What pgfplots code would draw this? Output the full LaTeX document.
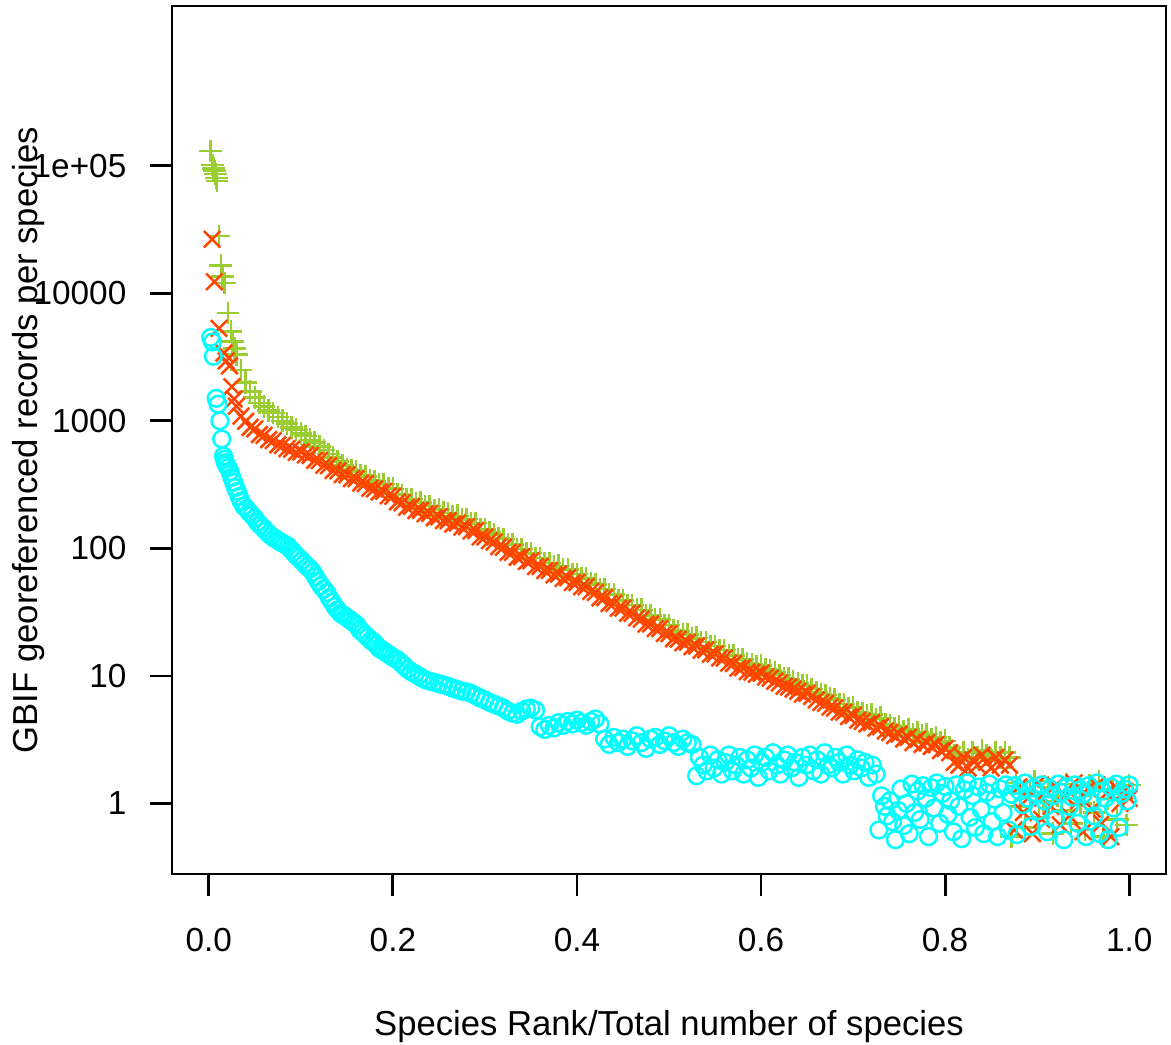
\documentclass[border=0pt]{standalone}
\usepackage{pgfplots}
\pgfplotsset{compat=1.18}
\usepackage{pgfplotstable}
\usepackage{fontspec}
\setmainfont{Liberation Sans}
\definecolor{ygreen}{RGB}{154,205,50}
\definecolor{ored}{RGB}{255,69,0}
\definecolor{rcyan}{RGB}{0,255,255}

\pgfplotstableread{
x y
0.002 130000
0.004 101000
0.005 95000
0.006 91000
0.007 86000
0.008 80000
0.009 76000
0.011 28000
0.013 16500
0.015 13500
0.017 12000
0.021 7000
0.024 5000
0.026 4200
0.028 3700
0.030 3300
0.035 2500
0.040 2000
0.045 1700
0.050 1520
0.055 1380
0.060 1290
0.065 1200
0.070 1150
0.075 1070
0.080 1000
0.085 955
0.090 890
0.095 850
0.100 795
0.105 760
0.110 710
0.115 675
0.120 630
0.125 590
0.130 550
0.135 515
0.140 480
0.145 447
0.150 417
0.155 408
0.160 400
0.165 373
0.170 367
0.175 339
0.180 335
0.185 318
0.190 320
0.195 297
0.200 293
0.205 267
0.210 261
0.215 242
0.220 244
0.225 227
0.230 228
0.235 215
0.240 215
0.245 200
0.250 202
0.255 190
0.260 189
0.265 178
0.270 180
0.275 169
0.280 170
0.285 157
0.290 158
0.295 142
0.300 141
0.305 133
0.310 128
0.315 119
0.320 118
0.325 107
0.330 107
0.335 99
0.340 99
0.345 91
0.350 92
0.355 84
0.360 84
0.365 77
0.370 77
0.375 72
0.380 73
0.385 68
0.390 68
0.395 63
0.400 63
0.405 58
0.410 58
0.415 53
0.420 52
0.425 48
0.430 48
0.435 43.5
0.440 43.5
0.445 39
0.450 39
0.455 36
0.460 36
0.465 33
0.470 33
0.475 29.7
0.480 29.7
0.485 27.6
0.490 27.6
0.495 25
0.500 25
0.505 22.8
0.510 22.3
0.515 21.2
0.520 21.2
0.525 19.6
0.530 19.9
0.535 18.4
0.540 18.5
0.545 17.2
0.550 17.2
0.555 15.9
0.560 15.9
0.565 14.6
0.570 14.4
0.575 13.4
0.580 13.4
0.585 12.5
0.590 12.3
0.595 11.9
0.600 12.1
0.605 11.3
0.610 11.1
0.615 10.6
0.620 10.2
0.625 9.6
0.630 9.5
0.635 9.1
0.640 8.8
0.645 8.4
0.650 8.5
0.655 7.9
0.660 7.5
0.665 7.2
0.670 7.1
0.675 6.7
0.680 6.5
0.685 6.0
0.690 6.0
0.695 5.6
0.700 5.7
0.705 5.2
0.710 5.1
0.715 4.9
0.720 5.0
0.725 4.6
0.730 4.7
0.735 4.2
0.740 4.1
0.745 3.9
0.750 4.0
0.755 3.7
0.760 3.8
0.765 3.5
0.770 3.6
0.775 3.4
0.780 3.5
0.785 3.2
0.790 3.3
0.795 3.0
0.800 3.1
0.805 2.75
0.810 2.4
0.815 2.3
0.820 2.5
0.825 2.2
0.830 2.5
0.835 2.3
0.840 2.6
0.845 2.4
0.850 2.2
0.855 2.5
0.860 2.3
0.865 2.5
0.870 2.3
0.872 0.55
0.877 1.45
0.882 0.95
0.887 0.65
0.892 1.20
0.897 1.50
0.902 0.78
0.907 1.05
0.912 1.35
0.917 0.58
0.922 1.15
0.927 0.88
0.932 1.42
0.937 0.70
0.942 1.25
0.947 1.00
0.952 0.62
0.957 1.38
0.962 0.85
0.967 1.48
0.972 0.55
0.977 1.10
0.982 1.30
0.987 0.75
0.992 1.20
0.997 0.68
1.000 1.40
}\greendata

\pgfplotstableread{
x y
0.0035 26500
0.0060 12300
0.0110 5300
0.0165 3400
0.0190 2950
0.0225 2700
0.0250 1850
0.0275 1480
0.030 1300
0.035 1090
0.040 990
0.045 890
0.050 865
0.055 780
0.060 770
0.065 712
0.070 700
0.075 650
0.080 640
0.085 605
0.090 598
0.095 565
0.100 570
0.105 540
0.110 535
0.115 490
0.120 488
0.125 448
0.130 445
0.135 408
0.140 405
0.145 378
0.150 378
0.155 352
0.160 352
0.165 325
0.170 322
0.175 296
0.180 293
0.185 277
0.190 280
0.195 258
0.200 256
0.205 232
0.210 228
0.215 210
0.220 213
0.225 198
0.230 199
0.235 187
0.240 188
0.245 174
0.250 177
0.255 165
0.260 165
0.265 155
0.270 158
0.275 147
0.280 148
0.285 137
0.290 138
0.295 123
0.300 123
0.305 115
0.310 112
0.315 103
0.320 102
0.325 93
0.330 93
0.335 85
0.340 86
0.345 79
0.350 80
0.355 72
0.360 72
0.365 67
0.370 67
0.375 62
0.380 63
0.385 58
0.390 59
0.395 54
0.400 54
0.405 50
0.410 50
0.415 46
0.420 45
0.425 41
0.430 41
0.435 37
0.440 37
0.445 34
0.450 34
0.455 31
0.460 31
0.465 28.5
0.470 28
0.475 25.5
0.480 25.5
0.485 23.5
0.490 23.5
0.495 21.5
0.500 21.5
0.505 19.6
0.510 19.4
0.515 18.2
0.520 18.4
0.525 17
0.530 17.2
0.535 15.9
0.540 16
0.545 14.8
0.550 14.9
0.555 13.8
0.560 13.8
0.565 12.6
0.570 12.5
0.575 11.5
0.580 11.6
0.585 10.8
0.590 10.7
0.595 10.3
0.600 10.5
0.605 9.8
0.610 9.6
0.615 9.1
0.620 8.8
0.625 8.3
0.630 8.2
0.635 7.9
0.640 7.6
0.645 7.2
0.650 7.3
0.655 6.9
0.660 6.5
0.665 6.2
0.670 6.1
0.675 5.7
0.680 5.6
0.685 5.2
0.690 5.2
0.695 4.8
0.700 4.9
0.705 4.5
0.710 4.4
0.715 4.2
0.720 4.3
0.725 3.9
0.730 4.0
0.735 3.7
0.740 3.6
0.745 3.4
0.750 3.5
0.755 3.2
0.760 3.3
0.765 3.0
0.770 3.2
0.775 2.9
0.780 3.0
0.785 2.8
0.790 2.9
0.795 2.6
0.800 2.7
0.805 2.5
0.810 2.1
0.815 2.0
0.820 2.3
0.825 1.9
0.830 2.2
0.835 2.0
0.840 2.4
0.845 2.1
0.850 1.9
0.855 2.3
0.860 2.0
0.865 2.2
0.870 2.0
0.875 0.62
0.880 1.35
0.885 0.85
0.890 1.10
0.895 0.58
0.900 1.42
0.905 0.75
0.910 1.25
0.915 0.95
0.920 1.38
0.925 0.68
0.930 1.15
0.935 0.80
0.940 1.45
0.945 1.05
0.950 0.60
0.955 1.30
0.960 0.90
0.965 1.40
0.970 0.70
0.975 1.20
0.980 0.55
0.985 1.35
0.990 1.00
0.995 1.25
1.000 1.10
}\reddata

\pgfplotstableread{
x y
0.002 4500
0.004 4150
0.005 3200
0.008 1500
0.010 1350
0.012 1000
0.014 720
0.016 530
0.017 500
0.018 470
0.019 450
0.021 430
0.023 400
0.025 360
0.027 330
0.029 300
0.031 280
0.033 255
0.035 235
0.038 215
0.041 205
0.044 192
0.047 182
0.050 172
0.053 160
0.056 152
0.059 145
0.062 137
0.065 130
0.068 125
0.071 120
0.074 117
0.077 113
0.080 110
0.083 107
0.086 104
0.089 98
0.092 93
0.095 88
0.098 84
0.101 80
0.104 76
0.107 72
0.110 69
0.113 65
0.116 60
0.119 55
0.122 51
0.125 48
0.128 45
0.131 41
0.134 38
0.137 35
0.140 33
0.143 31
0.146 30
0.149 29
0.152 28
0.155 27
0.158 26
0.161 25
0.164 23
0.167 22
0.170 21
0.173 20
0.176 19
0.179 18.5
0.182 17.5
0.185 16.5
0.188 16
0.191 15.5
0.194 15
0.197 14.5
0.200 14
0.204 13.5
0.208 12.8
0.212 12
0.216 11.3
0.220 10.8
0.224 10.4
0.228 10
0.232 9.6
0.236 9.3
0.240 9.1
0.245 8.9
0.250 8.7
0.255 8.5
0.260 8.3
0.265 8.0
0.270 7.8
0.275 7.6
0.280 7.5
0.285 7.3
0.290 7.0
0.295 6.7
0.300 6.5
0.305 6.2
0.310 6.0
0.315 5.8
0.320 5.6
0.325 5.3
0.330 5.1
0.335 5.0
0.340 5.3
0.345 5.5
0.350 5.6
0.355 5.4
0.360 4.0
0.365 3.8
0.370 4.1
0.375 3.9
0.380 4.3
0.385 4.1
0.390 4.4
0.395 4.2
0.400 4.5
0.405 4.3
0.410 4.1
0.415 4.4
0.420 4.6
0.425 4.2
0.430 3.2
0.435 2.9
0.440 3.3
0.445 3.0
0.450 3.2
0.455 2.8
0.460 3.1
0.465 3.4
0.470 3.0
0.475 2.7
0.480 3.2
0.485 3.3
0.490 2.9
0.495 3.1
0.500 3.4
0.505 3.0
0.510 2.8
0.515 3.2
0.520 3.0
0.525 2.9
0.530 1.65
0.533 2.3
0.537 2.0
0.541 1.8
0.545 2.4
0.549 1.9
0.553 2.2
0.557 1.7
0.561 2.1
0.565 2.4
0.569 1.8
0.573 2.0
0.577 2.3
0.581 1.7
0.585 2.2
0.589 1.9
0.593 2.4
0.597 1.6
0.601 2.1
0.605 2.3
0.609 1.8
0.613 2.5
0.617 2.0
0.621 1.7
0.625 2.2
0.629 2.4
0.633 1.9
0.637 2.1
0.641 1.6
0.645 2.3
0.649 2.0
0.653 2.4
0.657 1.8
0.661 2.2
0.665 1.7
0.669 2.5
0.673 2.0
0.677 1.9
0.681 2.3
0.685 2.1
0.689 1.7
0.693 2.4
0.697 2.0
0.701 1.8
0.705 2.2
0.709 1.9
0.713 2.1
0.717 1.6
0.721 2.0
0.725 1.7
0.728 0.62
0.731 1.15
0.734 0.95
0.737 0.80
0.740 1.05
0.743 0.72
0.746 0.52
0.749 0.88
0.752 1.30
0.755 0.67
0.758 1.00
0.761 0.58
0.764 1.42
0.767 0.85
0.770 1.25
0.773 0.75
0.776 1.38
0.779 1.10
0.782 0.55
0.785 1.33
0.788 0.92
0.791 1.45
0.794 0.70
0.797 1.20
0.800 1.36
0.803 0.82
0.806 1.05
0.809 0.60
0.812 1.40
0.815 0.95
0.818 0.53
0.821 1.28
0.824 1.45
0.827 0.78
0.830 1.15
0.833 0.65
0.836 1.35
0.839 0.90
0.842 0.58
0.845 1.22
0.848 1.42
0.851 0.72
0.854 1.08
0.857 0.55
0.860 1.30
0.863 0.85
0.866 1.40
0.869 0.62
0.872 1.18
0.875 1.38
0.878 0.57
0.881 1.25
0.884 0.98
0.887 1.45
0.890 1.10
0.893 0.66
0.896 1.32
0.899 1.20
0.902 0.88
0.905 1.40
0.908 1.05
0.911 0.60
0.914 1.30
0.917 1.15
0.920 0.75
0.923 1.42
0.926 1.22
0.929 0.52
0.932 1.35
0.935 0.95
0.938 1.12
0.941 1.40
0.944 0.70
0.947 1.28
0.950 1.18
0.953 0.55
0.956 1.38
0.959 1.02
0.962 0.80
0.965 1.45
0.968 0.58
0.971 1.25
0.974 1.10
0.977 0.52
0.980 1.35
0.983 0.92
0.986 1.42
0.989 0.65
0.992 1.20
0.995 1.30
0.998 1.05
1.000 1.40
}\cyandata

\begin{document}
\fontsize{10}{12}\selectfont
\begin{tikzpicture}
\useasboundingbox (-51.6pt,-51.3pt) rectangle (299.7pt,262.2pt);
\begin{axis}[
  scale only axis,
  width=298.2pt, height=260.4pt,
  xmin=-0.04, xmax=1.04,
  ymode=log, ymin=0.2801, ymax=1.786e6,
  axis line style={line width=0.85pt},
  every tick/.style={black, line width=0.85pt},
  tick align=outside,
  major tick length=6.6pt,
  xtick={0,0.2,0.4,0.6,0.8,1.0},
  xticklabels={0.0,0.2,0.4,0.6,0.8,1.0},
  ytick={1,10,100,1000,10000,100000},
  yticklabels={1,10,100,1000,10000,1e+05},
  yminorticks=false, xminorticks=false,
  log ticks with fixed point,
  xtick pos=bottom, ytick pos=left,
  /pgf/number format/assume math mode=true,
  ticklabel style={font=\fontsize{10}{12}\selectfont},
  xticklabel style={anchor=north, inner sep=0pt, yshift=-9.6pt},
  yticklabel style={anchor=east, inner sep=0pt, xshift=-6.9pt},
  xlabel={Species Rank/Total number of species},
  ylabel={GBIF georeferenced records per species},
  label style={font=\fontsize{10.4}{12.5}\selectfont},
  xlabel style={at={(axis description cs:0.5,-0.1855)}, anchor=base, inner sep=0pt},
  ylabel style={at={(axis description cs:-0.1358,0.5)}, anchor=base, inner sep=0pt},
  clip=false,
]
\addplot[only marks, mark=+, mark size=3.4pt, color=ygreen, line width=0.75pt] table {\greendata};
\addplot[only marks, mark=x, mark size=3.5pt, color=ored, line width=0.75pt] table {\reddata};
\addplot[only marks, mark=o, mark size=2.5pt, color=rcyan, line width=0.75pt] table {\cyandata};
\end{axis}
\end{tikzpicture}
\end{document}
